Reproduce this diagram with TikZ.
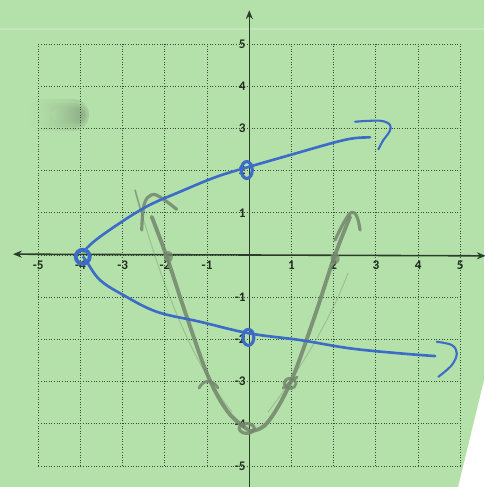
\documentclass[tikz,border=0pt]{standalone}
\usepackage{fontspec}
\setmainfont{Carlito}
\usetikzlibrary{arrows.meta}
\definecolor{paper}{RGB}{180,225,170}
\definecolor{pen}{RGB}{60,108,200}
\definecolor{pencil}{RGB}{115,135,108}
\definecolor{gridc}{RGB}{55,75,55}
\tikzset{
  gridline/.style={gridc, densely dotted, line width=0.5pt},
  axisline/.style={gridc!80!black, line width=0.9pt, -{Stealth[length=5pt,width=4pt]}},
  ticklbl/.style={font=\fontsize{7.5}{8}\selectfont\bfseries, text=gridc!60!black, inner sep=0.5pt},
  bluepen/.style={pen, line width=1.5pt, line cap=round, line join=round},
  graypen/.style={pencil, line width=2.2pt, line cap=round, line join=round, opacity=0.85},
  faintpen/.style={pencil, line width=0.6pt, opacity=0.35, line cap=round},
  smudge/.style={left color=paper, right color=pencil!75!paper, opacity=0.3},
}
\begin{document}
\begin{tikzpicture}
\useasboundingbox (0,0) rectangle (9.68cm,-9.74cm);
% paper background (pixel coordinates)
\begin{scope}[x=0.02cm,y=-0.02cm]
  \fill[paper] (0,0) rectangle (484,487);
  \draw[white, opacity=0.2, line width=1pt] (0,29) -- (484,29);
  \fill[white] (484,380) -- (484,487) -- (458,487) -- cycle;
  % smudge
  \shade[smudge, rounded corners=9pt] (28,99) rectangle (89,131);
  \shade[smudge, rounded corners=7pt] (34,103) rectangle (87,127);
  \shade[smudge, rounded corners=5pt] (42,106) rectangle (85,124);
  \shade[smudge, rounded corners=4pt] (52,108) rectangle (83,121);
\end{scope}
% grid and axes (grid coordinates)
\begin{scope}[shift={(4.986cm,-5.1cm)},x=0.844cm,y=0.844cm]
  \foreach \i in {-5,...,5} {
    \draw[gridline] (\i,-5) -- (\i,5);
    \draw[gridline] (-5,\i) -- (5,\i);
  }
  \coordinate (xl) at (-5.6,0.02);
  \coordinate (xr) at (5.6,-0.02);
  \coordinate (yt) at (0,5.8);
  \coordinate (yb) at (0,-5.75);
  \coordinate (o) at (0,0);
  \draw[axisline] (o) -- (xl);
  \draw[axisline] (o) -- (xr);
  \draw[axisline] (o) -- (yt);
  \draw[axisline] (o) -- (yb);
  \foreach \i in {-5,-4,-3,-2,-1,1,2,3,4,5} {
    \node[ticklbl, anchor=north] (lx\i) at (\i,-0.12) {\i};
    \node[ticklbl, anchor=east] (ly\i) at (-0.06,\i) {\i};
  }
\end{scope}
% hand drawing (pixel coordinates)
\begin{scope}[x=0.02cm,y=-0.02cm]
  % faint pencil guide strokes
  \draw[faintpen] (135,190) .. controls (160,280) and (190,360) .. (232,412);
  \draw[faintpen] (348,273) .. controls (330,320) and (300,370) .. (268,412);
  % gray parabola
  \draw[graypen] plot[smooth, tension=0.6] coordinates {(151.7,216.7) (166.7,256.7) (186.7,316.7) (208.3,376.7) (228,412) (248.3,430)};
  \draw[graypen] plot[smooth, tension=0.6] coordinates {(249.3,431) (266.7,423.3) (290,383.3) (313.3,320) (334.3,256.7) (350,216.7)};
  % gray arrowheads
  \draw[graypen, line width=1.8pt] plot[smooth, tension=0.7] coordinates {(141.7,230) (144,205) (151,195) (160,197) (176.7,209.3)};
  \draw[faintpen, line width=0.9pt, opacity=0.6] (135,190) -- (142,215);
  \draw[graypen, line width=1.8pt] plot[smooth, tension=0.7] coordinates {(335,240) (344,222) (351.7,212.3) (357,217) (360,230)};
  % gray point marks
  \fill[pencil, opacity=0.75] (168.3,256.7) ellipse (4.5 and 6);
  \fill[pencil, opacity=0.75] (335,258.3) ellipse (4.5 and 6);
  \draw[graypen, line width=1.6pt] (199,388) .. controls (203,380) and (212,378) .. (218,388);
  \draw[graypen, line width=1.6pt] (290,383.3) ellipse (6 and 5);
  \draw[graypen, line width=1.6pt] (283,388) -- (297,377);
  \draw[graypen, line width=1.8pt] (246.7,428.3) ellipse (7.5 and 5);
  % blue parabola
  \draw[bluepen] plot[smooth, tension=0.6] coordinates {(83.3,251.7) (100,236.7) (143.3,208.3) (180,191.7) (216.7,176.7) (249.3,166.7) (290,155) (333.3,142.7) (353.3,138.3) (370,137.3)};
  \draw[bluepen] plot[smooth, tension=0.6] coordinates {(83.3,257) (86.7,261.7) (100,280) (123.3,295) (156.7,311.7) (200,321.7) (249.3,333.3) (300,340) (350,348.3) (400,353.3) (435,356)};
  % blue hooks
  \draw[bluepen, line width=1.2pt] plot[smooth, tension=0.6] coordinates {(355,121.7) (380,120.7) (390,125) (389.3,131.7) (383.3,140) (378.3,149.3)};
  \draw[bluepen, line width=1.2pt] plot[smooth, tension=0.6] coordinates {(436.7,341.7) (451.7,345) (456.7,353.3) (451.7,365) (438.3,376.7)};
  % blue circles
  \draw[bluepen, line width=2.2pt] (82.7,256.7) circle (7);
  \draw[bluepen, line width=1.8pt] (246.7,170) ellipse (5.5 and 8.5);
  \draw[bluepen, line width=1.8pt] (248.3,337.3) ellipse (5.5 and 8);
\end{scope}
\end{tikzpicture}
\end{document}
